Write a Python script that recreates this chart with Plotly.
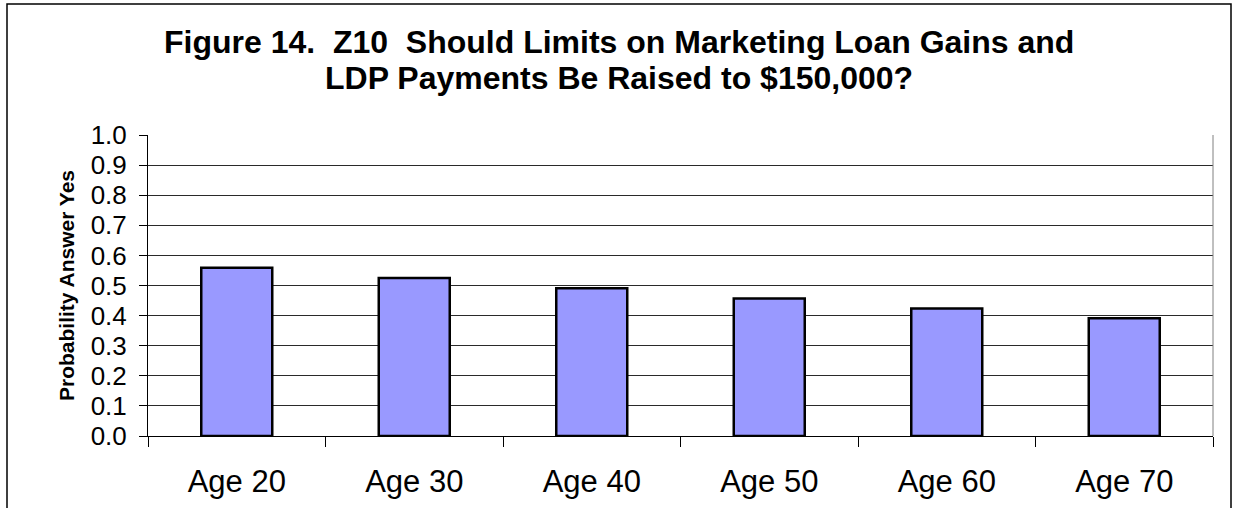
import plotly.graph_objects as go

# Survey model: predicted probability of answering "yes", by farmer age
ages = ["Age 20", "Age 30", "Age 40", "Age 50", "Age 60", "Age 70"]
prob_yes = [0.559, 0.525, 0.491, 0.457, 0.424, 0.391]
y_ticks = [0.0, 0.1, 0.2, 0.3, 0.4, 0.5, 0.6, 0.7, 0.8, 0.9, 1.0]

title_lines = ["Figure 14.  Z10  Should Limits on Marketing Loan Gains and",
               "LDP Payments Be Raised to $150,000?"]
y_title = "Probability Answer Yes"

FONT = "Arial, 'Liberation Sans', sans-serif"

W, H = 1233, 508
L, R, T, B = 148, 20, 135, 72
pw, ph = W - L - R, H - T - B


# paper-coordinate helpers (pixel -> paper fraction)
def px_x(p):
    return (p - L) / pw


def px_y(p):
    return (H - B - p) / ph


fig = go.Figure(
    go.Bar(
        x=ages,
        y=prob_yes,
        width=0.4,
        marker=dict(color="#9999FF", line=dict(color="#000000", width=2.5)),
        hoverinfo="x+y",
    )
)

# two-line heading, each line placed on its own
title_centres = [42, 78]
annotations = [
    dict(text=line, xref="paper", yref="paper",
         x=px_x(W / 2 + 2), y=px_y(cy), xanchor="center", yanchor="middle",
         showarrow=False,
         font=dict(family=FONT, size=32, color="black", weight="bold"))
    for line, cy in zip(title_lines, title_centres)
]

fig.update_layout(
    width=W,
    height=H,
    margin=dict(l=L, r=R, t=T, b=B),
    paper_bgcolor="white",
    plot_bgcolor="white",
    showlegend=False,
    font=dict(family=FONT, color="black"),
    annotations=annotations,
    xaxis=dict(
        type="category",
        automargin=False,
        showgrid=False,
        showline=True,
        linecolor="black",
        linewidth=1,
        ticks="outside",
        tickson="boundaries",
        ticklen=10,
        tickcolor="black",
        tickwidth=1,
        tickfont=dict(family=FONT, size=31, color="black"),
        ticklabelstandoff=18,
    ),
    yaxis=dict(
        range=[0, 1.0],
        automargin=False,
        tickvals=y_ticks,
        ticktext=[f"{v:.1f}" for v in y_ticks],
        showgrid=True,
        gridcolor="#2a2a2a",
        gridwidth=1,
        zeroline=False,
        showline=True,
        linecolor="black",
        linewidth=1,
        ticks="outside",
        ticklen=8,
        tickcolor="black",
        tickwidth=1,
        tickfont=dict(family=FONT, size=26, color="black"),
        ticklabelstandoff=7,
        title=dict(
            text=y_title,
            font=dict(family=FONT, size=21, color="black", weight="bold"),
            standoff=10,
        ),
    ),
    shapes=[
        # right edge of the plot area
        dict(type="line", xref="paper", yref="paper", x0=1, x1=1, y0=0, y1=1,
             line=dict(color="#808080", width=1)),
        # outer chart frame
        dict(type="rect", xref="paper", yref="paper",
             x0=px_x(7), x1=px_x(1231), y0=px_y(520), y1=px_y(4),
             line=dict(color="black", width=1.5), fillcolor="rgba(0,0,0,0)",
             layer="above"),
    ],
)

fig.write_html("out.html")
